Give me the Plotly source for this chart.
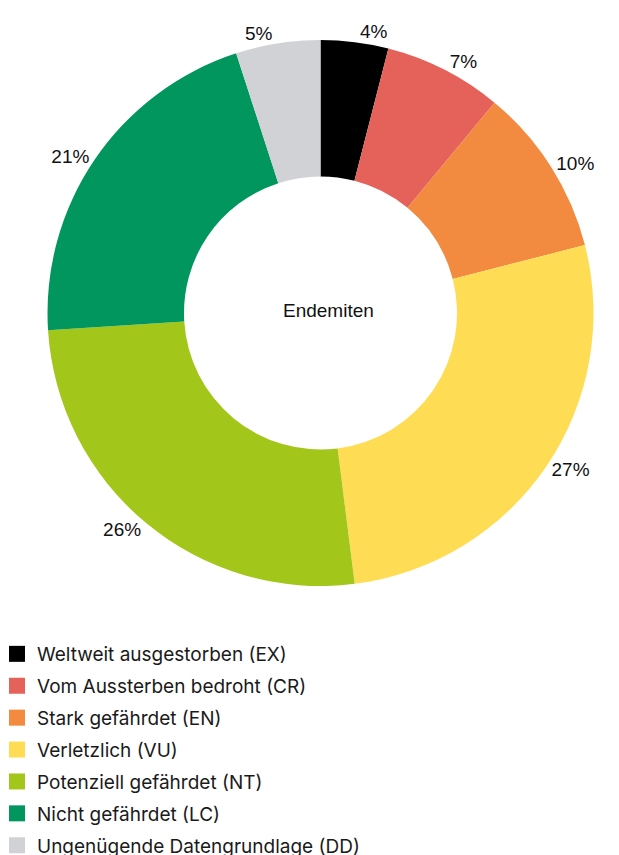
import plotly.graph_objects as go

categories = [
    "Weltweit ausgestorben (EX)",
    "Vom Aussterben bedroht (CR)",
    "Stark gefährdet (EN)",
    "Verletzlich (VU)",
    "Potenziell gefährdet (NT)",
    "Nicht gefährdet (LC)",
    "Ungenügende Datengrundlage (DD)",
]
shares = [4, 7, 10, 27, 26, 21, 5]
colors = ["#000000", "#e5625a", "#f28a3f", "#fedd55", "#a3c61a", "#00965e", "#d1d2d6"]
center_label = "Endemiten"

W, H = 619, 855

fig = go.Figure()

# pie box shifted a bit, plotly nudges it when labels sit outside
fig.add_trace(go.Pie(
    labels=categories,
    values=shares,
    marker=dict(colors=colors, line=dict(width=0)),
    hole=0.5,
    sort=False,
    direction="clockwise",
    rotation=0,
    texttemplate="%{value}%",
    textposition="outside",
    textfont=dict(family="Liberation Sans, Arial", size=19, color="#111111"),
    showlegend=False,
    domain=dict(x=[39 / W, 586 / W], y=[1 - 578 / H, 1 - 32 / H]),
))

# legend entries as square markers
for name, col in zip(categories, colors):
    fig.add_trace(go.Scatter(
        x=[None], y=[None], mode="markers", name=name,
        marker=dict(symbol="square", size=19, color=col),
        legendgroup=name,
    ))

fig.add_annotation(
    text=center_label, x=320 / W, y=1 - 302 / H, xref="paper", yref="paper",
    showarrow=False, font=dict(family="Liberation Sans, Arial", size=19, color="#111111"),
)

fig.update_layout(
    width=W, height=H,
    margin=dict(l=0, r=0, t=0, b=0, autoexpand=False),
    paper_bgcolor="white", plot_bgcolor="white",
    xaxis=dict(visible=False), yaxis=dict(visible=False),
    legend=dict(
        x=-11 / W, y=1 - 627 / H, xanchor="left", yanchor="top",
        font=dict(family="Inter, Lato, sans-serif", size=19, color="#1a1a1a"),
        tracegroupgap=4.2, itemsizing="trace",
    ),
)

fig.write_html("out.html")
